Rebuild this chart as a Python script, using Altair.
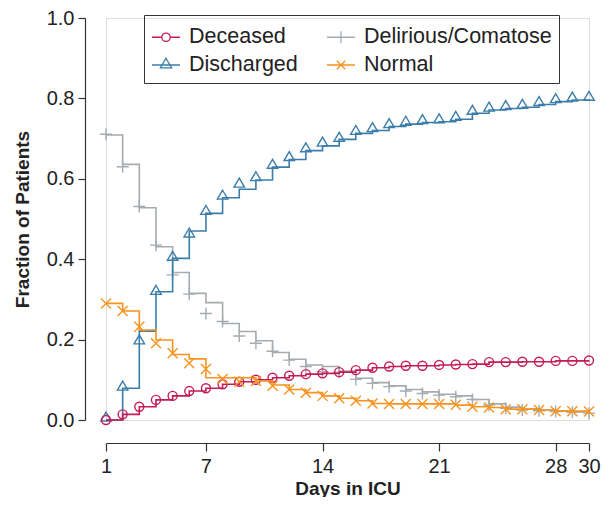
import altair as alt
import pandas as pd

days = list(range(1, 31))
series = ["Deceased", "Discharged", "Delirious/Comatose", "Normal"]
colors = ["#C51B57", "#3B7DAA", "#A5ABAE", "#F7931E"]

# marker values
deceased_pts = [0.000, 0.014, 0.033, 0.050, 0.060, 0.072, 0.079, 0.089, 0.095, 0.100,
                0.105, 0.110, 0.114, 0.116, 0.119, 0.124, 0.130, 0.133, 0.135, 0.135,
                0.137, 0.138, 0.139, 0.144, 0.144, 0.145, 0.145, 0.147, 0.147, 0.148]
delirious_pts = [0.711, 0.630, 0.531, 0.435, 0.361, 0.313, 0.265, 0.245, 0.209, 0.191,
                 0.171, 0.149, 0.133, 0.120, 0.118, 0.101, 0.091, 0.083, 0.072, 0.066,
                 0.062, 0.058, 0.051, 0.037, 0.029, 0.025, 0.023, 0.021, 0.019, 0.017]
discharged_pts = [0.000, 0.077, 0.192, 0.315, 0.400, 0.458, 0.514, 0.552, 0.582, 0.598,
                  0.629, 0.648, 0.670, 0.684, 0.696, 0.713, 0.720, 0.730, 0.736, 0.740,
                  0.742, 0.748, 0.763, 0.771, 0.775, 0.778, 0.785, 0.792, 0.796, 0.798]
normal_pts = [0.290, 0.271, 0.232, 0.191, 0.166, 0.141, 0.127, 0.102, 0.095, 0.097,
              0.085, 0.076, 0.068, 0.060, 0.054, 0.048, 0.041, 0.040, 0.040, 0.040,
              0.040, 0.038, 0.033, 0.031, 0.027, 0.027, 0.025, 0.022, 0.022, 0.021]

# step-line levels
deceased_line = [0.000, 0.014, 0.033, 0.050, 0.060, 0.072, 0.079, 0.089, 0.095, 0.100,
                 0.105, 0.110, 0.114, 0.116, 0.119, 0.124, 0.130, 0.133, 0.135, 0.135,
                 0.137, 0.138, 0.139, 0.144, 0.144, 0.145, 0.145, 0.147, 0.147, 0.148]
delirious_line = [0.709, 0.636, 0.528, 0.431, 0.367, 0.315, 0.292, 0.240, 0.220, 0.197,
                  0.168, 0.151, 0.137, 0.133, 0.122, 0.104, 0.093, 0.085, 0.076, 0.070,
                  0.064, 0.060, 0.051, 0.040, 0.032, 0.027, 0.025, 0.022, 0.020, 0.018]
discharged_line = [0.000, 0.079, 0.221, 0.319, 0.402, 0.470, 0.514, 0.553, 0.574, 0.597,
                   0.629, 0.648, 0.670, 0.682, 0.698, 0.713, 0.720, 0.730, 0.736, 0.740,
                   0.742, 0.748, 0.763, 0.771, 0.775, 0.778, 0.785, 0.792, 0.796, 0.798]
normal_line = [0.290, 0.271, 0.224, 0.199, 0.163, 0.152, 0.105, 0.105, 0.105, 0.097,
               0.087, 0.076, 0.068, 0.060, 0.054, 0.048, 0.041, 0.040, 0.040, 0.040,
               0.040, 0.037, 0.033, 0.031, 0.027, 0.027, 0.025, 0.022, 0.022, 0.021]

x_ticks = [1, 7, 14, 21, 28, 30]
y_ticks = [0.0, 0.2, 0.4, 0.6, 0.8, 1.0]

pts_values = {"Deceased": deceased_pts, "Delirious/Comatose": delirious_pts,
              "Discharged": discharged_pts, "Normal": normal_pts}
line_values = {"Deceased": deceased_line, "Delirious/Comatose": delirious_line,
               "Discharged": discharged_line, "Normal": normal_line}

pts_df = pd.DataFrame([{"day": d, "value": v, "series": s}
                       for s in series for d, v in zip(days, pts_values[s])])
line_df = pd.DataFrame([{"day": d, "value": v, "series": s}
                        for s in series for d, v in zip(days, line_values[s])])

FONT = "Liberation Sans"
TXT = "#222222"
AX = "#333333"

marker_shapes = {
    "Deceased": ("circle", 81),
    "Delirious/Comatose": ("M-1,0L1,0M0,-1L0,1", 144),
    "Discharged": ("M0,-1.5L1,0.2L-1,0.2Z", 110),
    "Normal": ("M-1,-1L1,1M-1,1L1,-1", 100),
}
legend_paths = [
    "M-1,0L-0.3,0M0.3,0L1,0M0.3,0A0.3,0.3,0,1,1,-0.3,0A0.3,0.3,0,1,1,0.3,0",
    "M-1,0L1,0M0,-0.48L0.4,0.2L-0.4,0.2Z",
    "M-1,0L1,0M0,-0.42L0,0.42",
    "M-1,0L1,0M-0.3,-0.3L0.3,0.3M-0.3,0.3L0.3,-0.3",
]

x_enc = alt.X("day:Q", scale=alt.Scale(domain=[1, 30], nice=False, zero=False),
              axis=alt.Axis(values=x_ticks, title="Days in ICU", offset=23, tickSize=8,
                            labelFontSize=20, titleFontSize=19, titleFontWeight="bold",
                            labelPadding=5, titlePadding=3, grid=False,
                            labelOverlap=False, labelFlush=False, labelBound=False,
                            domainColor=AX, tickColor=AX, labelColor=TXT, titleColor=TXT,
                            labelFont=FONT, titleFont=FONT, domainWidth=1.2, tickWidth=1.2))
y_enc = alt.Y("value:Q", scale=alt.Scale(domain=[0, 1], nice=False),
              axis=alt.Axis(values=y_ticks, format=".1f", title="Fraction of Patients",
                            offset=21, tickSize=7, labelFontSize=20, titleFontSize=19,
                            titleFontWeight="bold", labelPadding=4, titlePadding=14,
                            labelOverlap=False, labelFlush=False,
                            grid=False, domainColor=AX, tickColor=AX, labelColor=TXT,
                            titleColor=TXT, labelFont=FONT, titleFont=FONT,
                            domainWidth=1.2, tickWidth=1.2))

layers = []
order = ["Delirious/Comatose", "Discharged", "Deceased", "Normal"]
for s in order:
    c = colors[series.index(s)]
    shp, sz = marker_shapes[s]
    layers.append(
        alt.Chart(line_df).transform_filter(alt.datum.series == s)
        .mark_line(interpolate="step-after", strokeWidth=1.6, color=c)
        .encode(x=x_enc, y=y_enc)
    )
    layers.append(
        alt.Chart(pts_df).transform_filter(alt.datum.series == s)
        .mark_point(shape=shp, size=sz, filled=False, strokeWidth=1.4, color=c, opacity=1)
        .encode(x=x_enc, y=y_enc)
    )

leg = alt.Legend(orient="none", legendX=38, legendY=-3, columns=2, title=None,
                 labelFont=FONT, labelFontSize=21.5, labelColor=TXT, labelLimit=400,
                 symbolSize=784, symbolStrokeWidth=1.3, strokeColor="#333333",
                 padding=7, columnPadding=26, rowPadding=2, labelOffset=8,
                 symbolOpacity=1)

legend_layer = (
    alt.Chart(pts_df).transform_filter("false")
    .mark_point(filled=False, strokeWidth=1.3, opacity=1)
    .encode(x=x_enc, y=y_enc,
            color=alt.Color("series:N", sort=series,
                            scale=alt.Scale(domain=series, range=colors), legend=leg),
            shape=alt.Shape("series:N", sort=series,
                            scale=alt.Scale(domain=series, range=legend_paths), legend=leg))
)
layers.append(legend_layer)

chart = (
    alt.layer(*layers)
    .properties(width=483, height=402, autosize="none",
                padding={"left": 98, "top": 10, "right": 14, "bottom": 77})
    .configure_view(stroke=None)
    .configure(background="white")
)

chart.save("out.html", embed_options={"renderer": "svg", "actions": False})
